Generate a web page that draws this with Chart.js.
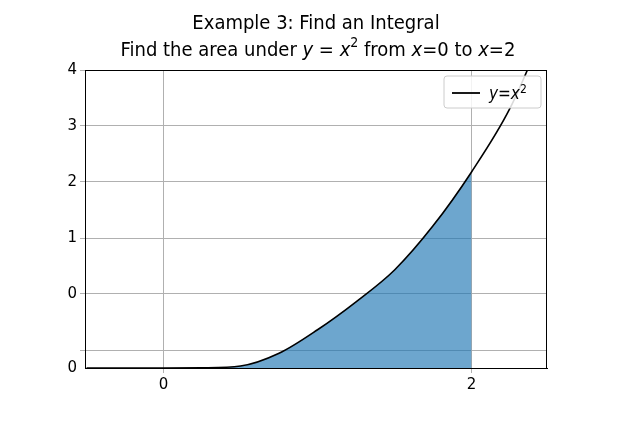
<!DOCTYPE html>
<html><head><meta charset="utf-8">
<script src="https://cdn.jsdelivr.net/npm/chart.js@4"></script>
<style>html,body{margin:0;padding:0;background:#fff}#w{width:640px;height:427px}</style>
</head><body><div id="w"><canvas id="c"></canvas></div>
<script>
const xs = [-0.5,-0.25,0,0.25,0.5,0.75,1,1.25,1.5,1.75,2,2.25,2.5];
const ys = [0,0,0,0.005,0.04,0.3,0.78,1.35,2.0,2.9,4,5.3,7.1];
const fillXs = [0,0.25,0.5,0.75,1,1.25,1.5,1.75,2];
const fillYs = [0,0.005,0.04,0.3,0.78,1.35,2.0,2.9,4];
const yTickVals = [0,0.367,1.51,2.65,3.8,4.94,6.08];
const yTickLabels = ["0","","0","1","2","3","4"];
const xTickVals = [0,2];
const xTickLabels = ["0","2"];
const legendLabel = ['y','=','x','2'];

const titlePlugin = {id:'t', afterDraw(ch){const c=ch.ctx;c.save();c.fillStyle='#000';c.textBaseline='alphabetic';
 const F='"DejaVu Sans Condensed","DejaVu Sans"';
 c.textAlign='center';c.font='20px '+F;c.fillText('Example 3: Find an Integral',316,29);
 const parts=[['Find the area under ',''],['y','italic '],[' = ',''],['x','italic '],['2','s'],[' from ',''],['x','italic '],['=0 to ',''],['x','italic '],['=2','']];
 const fn=p=>(p[1]==='s'?'14px ':(p[1]+'20px '))+F;
 let w=0;parts.forEach(p=>{c.font=fn(p);w+=c.measureText(p[0]).width;});
 let x=318-w/2;c.textAlign='left';parts.forEach(p=>{c.font=fn(p);c.fillText(p[0],x,p[1]==='s'?47:56);x+=c.measureText(p[0]).width;});
 const a=ch.chartArea;c.strokeStyle='#000';c.lineWidth=1;c.strokeRect(a.left+0.5,a.top+0.5,a.right-a.left-1,a.bottom-a.top);
 // legend
 c.fillStyle='rgba(255,255,255,0.85)';c.strokeStyle='#ccc';
 const lx=a.right-103,ly=a.top+6,lw=97,lh=32;c.beginPath();c.roundRect(lx,ly,lw,lh,3);c.fill();c.stroke();
 c.strokeStyle='#000';c.lineWidth=1.8;c.beginPath();c.moveTo(lx+8,ly+17);c.lineTo(lx+36,ly+17);c.stroke();
 c.fillStyle='#000';let tx=lx+45;
 [[legendLabel[0],'italic 17px '],[legendLabel[1],'17px '],[legendLabel[2],'italic 17px '],[legendLabel[3],'12px ']].forEach((p,i)=>{c.font=p[1]+F;c.fillText(p[0],tx,i===3?ly+17:ly+23);tx+=c.measureText(p[0]).width;});
 c.restore();}};

new Chart(document.getElementById('c'),{
 type:'line',
 data:{datasets:[
  {label:'y=x²',data:xs.map((x,i)=>({x,y:ys[i]})),borderColor:'#000',borderWidth:1.6,pointRadius:0,cubicInterpolationMode:'monotone',fill:false,order:0},
  {label:'area',data:fillXs.map((x,i)=>({x,y:fillYs[i]})),borderColor:'rgba(0,0,0,0)',borderWidth:0,backgroundColor:'rgba(31,119,180,0.65)',pointRadius:0,cubicInterpolationMode:'monotone',fill:'origin',order:1}
 ]},
 options:{responsive:true,maintainAspectRatio:false,animation:false,
  layout:{padding:{left:40,right:93,top:70,bottom:30}},
  plugins:{title:{display:false},tooltip:{enabled:false},legend:{display:false}},
  scales:{
   x:{type:'linear',min:-0.51,max:2.49,afterBuildTicks:a=>{a.ticks=xTickVals.map(v=>({value:v}));},
    ticks:{callback:(v)=>xTickLabels[xTickVals.indexOf(v)],color:'#000',font:{size:15,family:'DejaVu Sans'},maxRotation:0},
    grid:{color:'#b0b0b0',drawTicks:true,tickLength:5},border:{color:'#000'},afterFit:s=>{s.height=29;}},
   y:{type:'linear',min:0,max:6.08,afterBuildTicks:a=>{a.ticks=yTickVals.map(v=>({value:v}));},
    ticks:{callback:(v)=>yTickLabels[yTickVals.indexOf(v)],color:'#000',font:{size:15,family:'DejaVu Sans'}},
    grid:{color:(c)=>c.index===0?'rgba(0,0,0,0)':'#b0b0b0',tickLength:5},border:{color:'#000'},afterFit:s=>{s.width=45;}}
  }},
 plugins:[titlePlugin]
});
</script></body></html>
